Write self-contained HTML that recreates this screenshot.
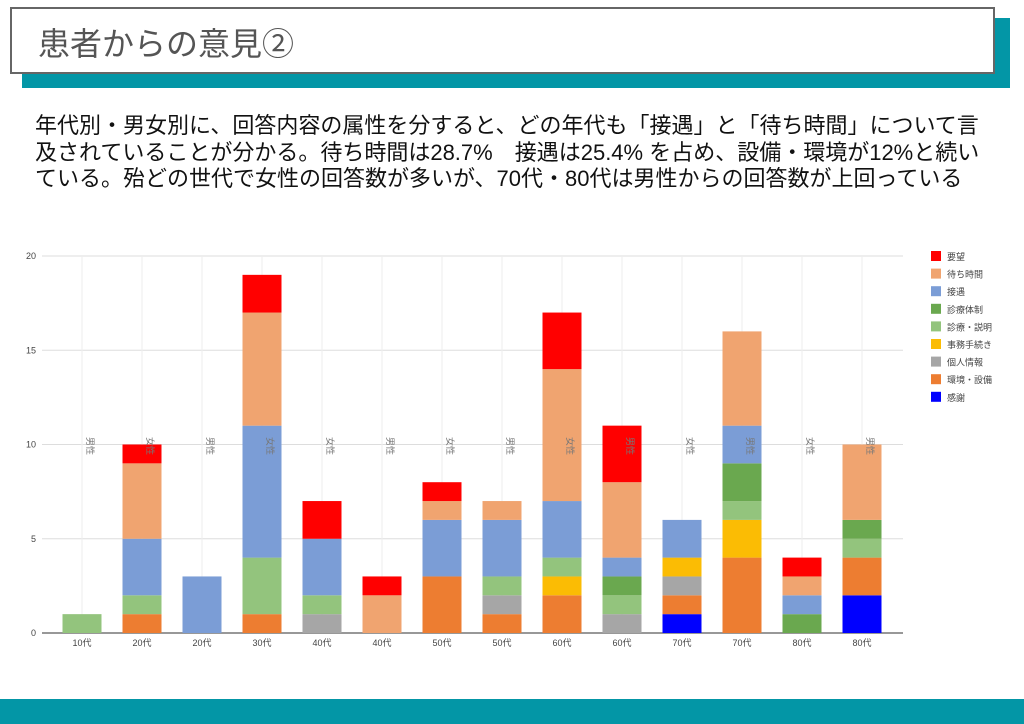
<!DOCTYPE html>
<html><head><meta charset="utf-8"><style>
html,body{margin:0;padding:0;background:#fff;}
body{width:1024px;height:724px;position:relative;overflow:hidden;font-family:"Liberation Sans","Noto Sans CJK JP",sans-serif;}
.shadow{position:absolute;left:22px;top:18px;width:988px;height:70px;background:#0396a6;}
.title{position:absolute;left:10px;top:7px;width:985px;height:67px;background:#fff;border:2px solid #666;box-sizing:border-box;}
.title span{position:absolute;left:26px;top:10px;font-size:32px;color:#555;}
.txt{position:absolute;left:35px;top:113px;font-size:22px;line-height:26.5px;color:#111;font-weight:normal;white-space:nowrap;}
.bottom{position:absolute;left:0;top:699px;width:1024px;height:25px;background:#0396a6;}
</style></head><body>
<div class="shadow"></div>
<div class="title"><span>患者からの意見②</span></div>
<div class="txt">年代別・男女別に、回答内容の属性を分すると、どの年代も「接遇」と「待ち時間」について言<br>及されていることが分かる。待ち時間は28.7%　接遇は25.4% を占め、設備・環境が12%と続い<br>ている。殆どの世代で女性の回答数が多いが、70代・80代は男性からの回答数が上回っている</div>
<svg style="position:absolute;left:0;top:0" width="1024" height="724" id="c"></svg>
<div class="bottom"></div>
<script>
const C={r:"#ff0000",w:"#f0a470",s:"#7b9dd6",t:"#6aa84f",e:"#93c47d",j:"#fbbc04",k:"#a6a6a6",v:"#ed7d31",g:"#0000ff"};
const data=[
[["e",1]],
[["v",1],["e",1],["s",3],["w",4],["r",1]],
[["s",3]],
[["v",1],["e",3],["s",7],["w",6],["r",2]],
[["k",1],["e",1],["s",3],["r",2]],
[["w",2],["r",1]],
[["v",3],["s",3],["w",1],["r",1]],
[["v",1],["k",1],["e",1],["s",3],["w",1]],
[["v",2],["j",1],["e",1],["s",3],["w",7],["r",3]],
[["k",1],["e",1],["t",1],["s",1],["w",4],["r",3]],
[["g",1],["v",1],["k",1],["j",1],["s",2]],
[["v",4],["j",2],["e",1],["t",2],["s",2],["w",5]],
[["t",1],["s",1],["w",1],["r",1]],
[["g",2],["v",2],["e",1],["t",1],["w",4]]];
const xl=["10代","20代","20代","30代","40代","40代","50代","50代","60代","60代","70代","70代","80代","80代"];
const gl=["男性","女性","男性","女性","女性","男性","女性","男性","女性","男性","女性","男性","女性","男性"];
const y0=633,u=18.85;let s="";
for(let i=0;i<=4;i++){const y=y0-i*5*u;s+=`<line x1="42" x2="903" y1="${y}" y2="${y}" stroke="${i?'#ddd':'#777'}" stroke-width="${i?1:1.5}"/><text x="36" y="${y+3}" font-size="9" fill="#444" text-anchor="end">${i*5}</text>`;}
for(let i=0;i<14;i++){const cx=82+60*i;s+=`<line x1="${cx}" x2="${cx}" y1="256" y2="632" stroke="#eee"/>`;}
data.forEach((b,i)=>{const cx=82+60*i;let y=y0;b.forEach(([k,v])=>{const h=v*u;s+=`<rect x="${cx-19.5}" y="${y-h}" width="39" height="${h}" fill="${C[k]}"/>`;y-=h;});
s+=`<text x="${cx}" y="646" font-size="9" fill="#444" text-anchor="middle">${xl[i]}</text>`;
s+=`<text transform="translate(${cx+5},437) rotate(90)" font-size="9" fill="#777">${gl[i]}</text>`;});
const L=[["r","要望"],["w","待ち時間"],["s","接遇"],["t","診療体制"],["e","診療・説明"],["j","事務手続き"],["k","個人情報"],["v","環境・設備"],["g","感謝"]];
L.forEach(([k,t],i)=>{const y=251+i*17.6;s+=`<rect x="931" y="${y}" width="10" height="10" fill="${C[k]}"/><text x="947" y="${y+9}" font-size="9" fill="#444">${t}</text>`;});
document.getElementById("c").innerHTML=s;
</script>
</body></html>
